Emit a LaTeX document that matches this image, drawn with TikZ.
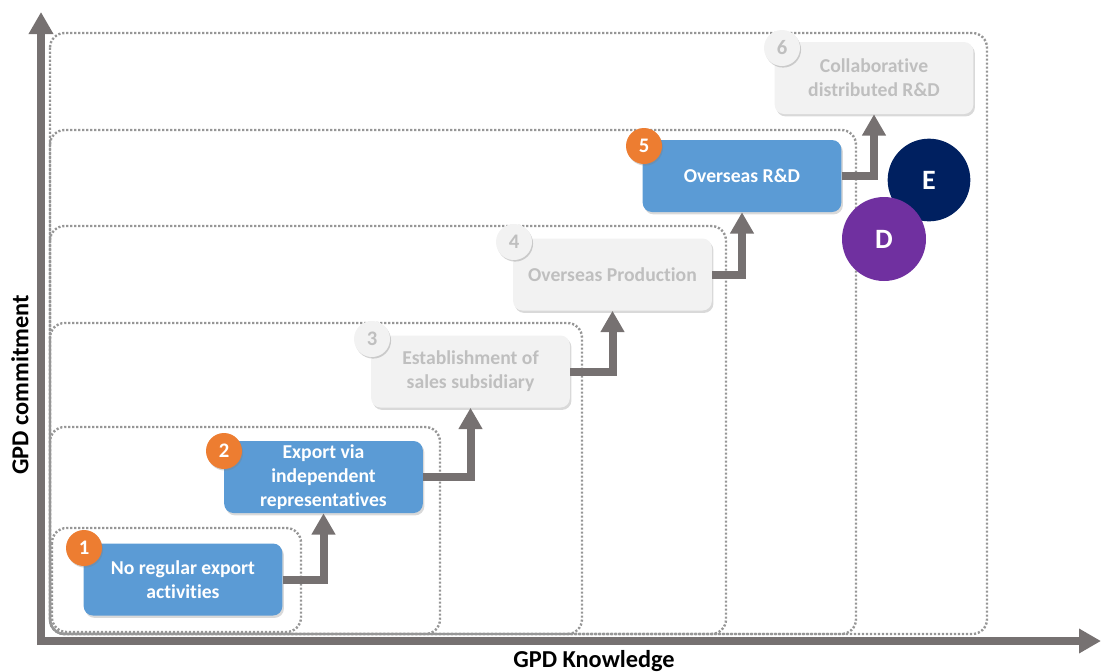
\documentclass[tikz,border=0pt]{standalone}
\usepackage{fontspec}
\setmainfont{Carlito}[Ligatures=NoCommon]
\usetikzlibrary{arrows.meta,shadows}
\definecolor{bluebox}{RGB}{91,155,213}
\definecolor{graybox}{RGB}{242,242,242}
\definecolor{graytext}{RGB}{191,191,191}
\definecolor{conncol}{RGB}{118,113,113}
\definecolor{dotcol}{RGB}{150,150,150}
\definecolor{orangebadge}{RGB}{237,125,49}
\definecolor{navyc}{RGB}{0,32,96}
\definecolor{purpc}{RGB}{112,48,160}
\begin{document}
\begin{tikzpicture}[x=0.75pt,y=-0.75pt,
 stage/.style={rounded corners=7pt, minimum width=149pt, minimum height=54pt, align=center,
   font=\bfseries\fontsize{14.75}{18}\selectfont, inner sep=0pt},
 active/.style={stage, fill=bluebox, text=white,
   drop shadow={shadow xshift=1.2pt,shadow yshift=-1.8pt,opacity=0.3}},
 inactive/.style={stage, fill=graybox, text=graytext,
   drop shadow={shadow xshift=1.2pt,shadow yshift=-1.8pt,opacity=0.3}},
 badge/.style={circle, minimum size=27pt, inner sep=0pt, font=\bfseries\fontsize{15.5}{15.5}\selectfont},
 obadge/.style={badge, fill=orangebadge, text=white,
   drop shadow={shadow xshift=0.8pt,shadow yshift=-1.2pt,opacity=0.35}},
 gbadge/.style={badge, fill=graybox, text=graytext,
   drop shadow={shadow xshift=0.8pt,shadow yshift=-1.2pt,opacity=0.35}},
 level/.style={draw=dotcol, line width=1.8pt, dash pattern=on 1.6pt off 1.4pt, rounded corners=11pt},
 conn/.style={draw=conncol, line width=6pt, -{Triangle[length=16pt,width=17pt]}},
 axisline/.style={draw=conncol, line width=6pt, -{Triangle[length=16.5pt,width=17.5pt]}},
 bigcirc/.style={circle, minimum size=62pt, inner sep=0pt, text=white,
   font=\bfseries\fontsize{21}{21}\selectfont},
 axlabel/.style={font=\bfseries\fontsize{18.25}{18.25}\selectfont, text=black}
]
\useasboundingbox (0,0) rectangle (1101,672);

% nested dotted levels
\draw[level] (50,33) rectangle (987,634);
\draw[level] (50,130) rectangle (856,634);
\draw[level] (50,226) rectangle (726,634);
\draw[level] (50,323) rectangle (582,634);
\draw[level] (50,427) rectangle (440,634);
\draw[level] (52,528) rectangle (301,632);

% axes
\coordinate (ybot) at (41,645);
\coordinate (ytop) at (41,12);
\coordinate (xleft) at (37,641);
\coordinate (xright) at (1101,641);
\draw[axisline] (ybot) -- (ytop);
\draw[axisline] (xleft) -- (xright);

% stages
\node[active]   (b1) at (183,579.5) {No regular export\\activities};
\node[active]   (b2) at (323.5,477) {Export via\\independent\\representatives};
\node[inactive] (b3) at (470.5,371.5) {Establishment of\\sales subsidiary};
\node[inactive] (b4) at (612.5,274.5) {Overseas Production};
\node[active]   (b5) at (742,176) {Overseas R\&D};
\node[inactive] (b6) at (874,78) {Collaborative\\distributed R\&D};

% connectors
\draw[conn] (b1.east) -| (b2.south);
\draw[conn] (b2.east) -| (b3.south);
\draw[conn] (b3.east) -| (b4.south);
\draw[conn] (b4.east) -| (b5.south);
\draw[conn] (b5.east) -| (b6.south);

% badges
\node[obadge] (n1) at (84,548) {1};
\node[obadge] (n2) at (224,451) {2};
\node[gbadge] (n3) at (372,339) {3};
\node[gbadge] (n4) at (514,242) {4};
\node[obadge] (n5) at (644,146) {5};
\node[gbadge] (n6) at (782,48) {6};

% E and D
\node[bigcirc, fill=navyc] (e) at (929,180) {E};
\node[bigcirc, fill=purpc, minimum size=63pt] (d) at (884,239) {D};

% axis labels
\node[axlabel, rotate=90] (ylab) at (20,385) {GPD commitment};
\node[axlabel] (xlab) at (594,661) {GPD Knowledge};
\end{tikzpicture}
\end{document}
